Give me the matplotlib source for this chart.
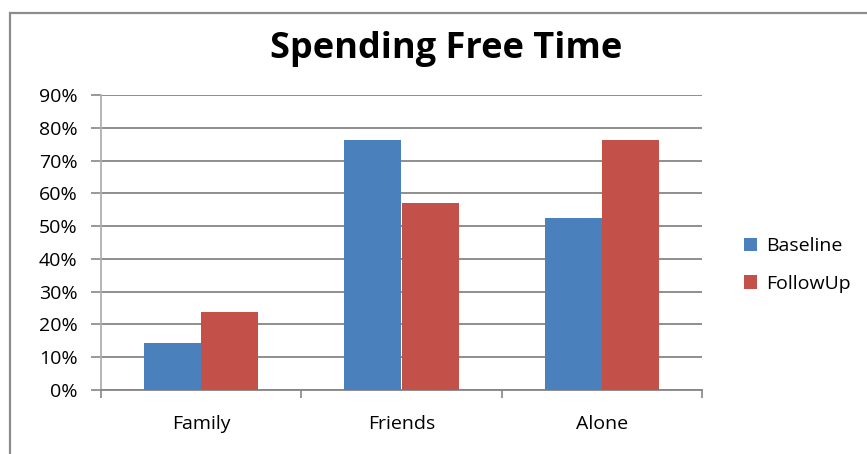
import matplotlib
matplotlib.use("Agg")
import matplotlib.pyplot as plt
import matplotlib.patches as mpatches
import numpy as np

# survey results, share of respondents
categories = ["Family", "Friends", "Alone"]
baseline = [14.3, 76.2, 52.4]
followup = [23.8, 57.1, 76.2]
yticks = [0, 10, 20, 30, 40, 50, 60, 70, 80, 90]

plt.rcParams['font.family'] = ['Open Sans', 'DejaVu Sans']

W, H = 867, 454
fig = plt.figure(figsize=(W / 100, H / 100), dpi=100)
fig.patch.set_facecolor('white')

# chart frame (runs off the right and bottom edge)
frame = mpatches.Rectangle((10 / W, -0.1), 1.2, 1 - 13 / H + 0.1,
                           transform=fig.transFigure, fill=False,
                           edgecolor='#8c8c8c', linewidth=1.6, clip_on=False)
fig.patches.append(frame)

ax = fig.add_axes([101 / W, (H - 390) / H, 601 / W, 295 / H])

x = np.arange(len(categories))
bw = 1 / 3.5
ax.bar(x - bw / 2, baseline, bw, color='#4a81bd', label='Baseline', zorder=3)
ax.bar(x + bw / 2, followup, bw, color='#c4504a', label='FollowUp', zorder=3)

ax.set_xlim(-0.5, 2.5)
ax.set_ylim(0, 90)
ax.set_yticks(yticks)
ax.set_yticklabels([f"{v}%" for v in yticks], fontsize=14)
ax.yaxis.grid(True, color='#868686', linewidth=1.3, zorder=0)
ax.set_axisbelow(True)

ax.set_xticks(x)
ax.set_xticklabels(categories, fontsize=14)
ax.set_xticks([-0.5, 0.5, 1.5, 2.5], minor=True)
ax.tick_params(axis='x', which='major', length=0, pad=18)
ax.tick_params(axis='x', which='minor', length=6, color='#868686', width=1.2)
ax.tick_params(axis='y', length=7, color='#868686', width=1.2, pad=10)

for s in ['top', 'right']:
    ax.spines[s].set_visible(False)
ax.spines['left'].set_color('#b0b0b0')
ax.spines['left'].set_linewidth(1.3)
ax.spines['bottom'].set_color('#868686')
ax.spines['bottom'].set_linewidth(1.3)

fig.text(446 / W, 1 - 49 / H, "Spending Free Time", ha='center', va='center',
         fontsize=26, fontweight='bold')

ax.legend(loc='center left', bbox_to_anchor=(726 / W, 1 - 265 / H),
          bbox_transform=fig.transFigure, frameon=False, fontsize=14,
          handlelength=0.7, handleheight=0.7, handletextpad=0.45,
          labelspacing=1.0)

fig.savefig("out.png", dpi=100)
